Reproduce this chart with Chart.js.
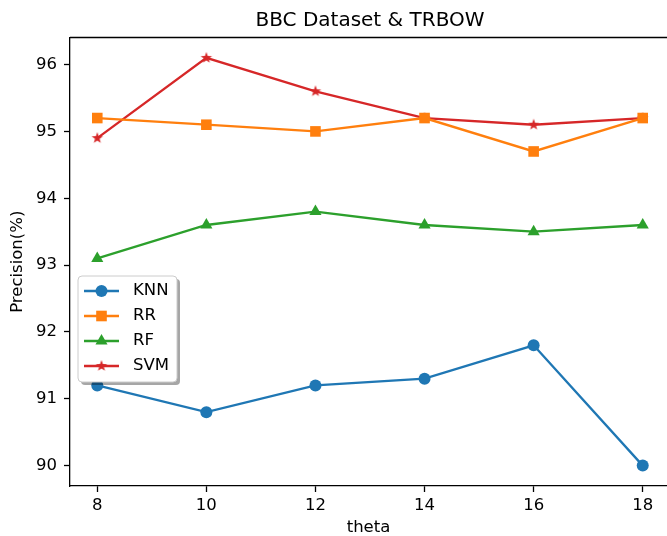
<!DOCTYPE html>
<html>
<head>
<meta charset="utf-8">
<script src="https://cdn.jsdelivr.net/npm/chart.js@4/dist/chart.umd.min.js"></script>
<style>
  html, body { margin: 0; padding: 0; background: #fff; overflow: hidden; }
  canvas { display: block; }
</style>
</head>
<body>
<canvas id="chart" width="667" height="536"></canvas>
<script>
const thetas = [8, 10, 12, 14, 16, 18];
const knn = [91.2, 90.8, 91.2, 91.3, 91.8, 90.0];
const rr = [95.2, 95.1, 95.0, 95.2, 94.7, 95.2];
const rf = [93.1, 93.6, 93.8, 93.6, 93.5, 93.6];
const svm = [94.9, 96.1, 95.6, 95.2, 95.1, 95.2];
const xTicks = [8, 10, 12, 14, 16, 18];
const yTicks = [90, 91, 92, 93, 94, 95, 96];
const titleText = "BBC Dataset & TRBOW";

// filled star like matplotlib's "*"
function makeStar(color) {
  const c = document.createElement("canvas");
  c.width = 14;
  c.height = 14;
  const g = c.getContext("2d");
  g.beginPath();
  for (let i = 0; i < 10; i++) {
    const r = i % 2 === 0 ? 6 : 2.4;
    const a = -Math.PI / 2 + (i * Math.PI) / 5;
    g.lineTo(7 + r * Math.cos(a), 7 + r * Math.sin(a));
  }
  g.closePath();
  g.fillStyle = color;
  g.fill();
  return c;
}

const series = [
  { label: "KNN", data: knn, color: "#1f77b4", style: "circle", radius: 6 },
  { label: "RR", data: rr, color: "#ff7f0e", style: "rect", radius: 7.5 },
  { label: "RF", data: rf, color: "#2ca02c", style: "triangle", radius: 7 },
  { label: "SVM", data: svm, color: "#d62728", style: makeStar("#d62728"), radius: 6 },
];

function drawMarker(ctx, s, x, y) {
  ctx.save();
  ctx.fillStyle = s.color;
  if (s.style === "circle") {
    ctx.beginPath();
    ctx.arc(x, y, s.radius, 0, Math.PI * 2);
    ctx.fill();
  } else if (s.style === "rect") {
    const h = s.radius * Math.SQRT1_2;
    ctx.fillRect(x - h, y - h, 2 * h, 2 * h);
  } else if (s.style === "triangle") {
    const r = s.radius;
    ctx.beginPath();
    ctx.moveTo(x, y - r);
    ctx.lineTo(x + r * 0.866, y + r / 2);
    ctx.lineTo(x - r * 0.866, y + r / 2);
    ctx.closePath();
    ctx.fill();
  } else {
    ctx.drawImage(s.style, x - 7, y - 7);
  }
  ctx.restore();
}

function roundRect(ctx, x, y, w, h, r) {
  ctx.beginPath();
  ctx.moveTo(x + r, y);
  ctx.arcTo(x + w, y, x + w, y + h, r);
  ctx.arcTo(x + w, y + h, x, y + h, r);
  ctx.arcTo(x, y + h, x, y, r);
  ctx.arcTo(x, y, x + w, y, r);
  ctx.closePath();
}

// title over the axes, legend box with shadow, top spine
const decor = {
  id: "decor",
  afterDatasetsDraw(chart) {
    const ctx = chart.ctx;
    const a = chart.chartArea;
    const x = a.left + 8, y = 276, w = 99, h = 106;
    ctx.save();
    ctx.fillStyle = "rgba(0,0,0,0.35)";
    roundRect(ctx, x + 3, y + 3, w, h, 4);
    ctx.fill();
    ctx.fillStyle = "#fff";
    ctx.strokeStyle = "#cccccc";
    ctx.lineWidth = 1;
    roundRect(ctx, x, y, w, h, 4);
    ctx.fill();
    ctx.stroke();
    series.forEach((s, i) => {
      const cy = y + 15 + i * 25;
      ctx.strokeStyle = s.color;
      ctx.lineWidth = 2.3;
      ctx.beginPath();
      ctx.moveTo(x + 6, cy);
      ctx.lineTo(x + 41, cy);
      ctx.stroke();
      drawMarker(ctx, s, x + 23.5, cy);
      ctx.fillStyle = "#000";
      ctx.font = "16.5px 'DejaVu Sans'";
      ctx.textBaseline = "middle";
      ctx.textAlign = "left";
      ctx.fillText(s.label, x + 55, cy);
    });
    ctx.restore();
  },
  afterDraw(chart) {
    const ctx = chart.ctx;
    const a = chart.chartArea;
    ctx.save();
    ctx.strokeStyle = "#000";
    ctx.lineWidth = 1.3;
    ctx.beginPath();
    ctx.moveTo(a.left, a.top);
    ctx.lineTo(a.right, a.top);
    ctx.stroke();
    // title centred on the full axes box (which runs a little past the canvas)
    const xs = chart.scales.x;
    const cx = (xs.getPixelForValue(7.5) + xs.getPixelForValue(18.5)) / 2;
    ctx.fillStyle = "#000";
    ctx.font = "20px 'DejaVu Sans'";
    ctx.textAlign = "center";
    ctx.textBaseline = "alphabetic";
    ctx.fillText(titleText, cx, 26);
    ctx.restore();
  },
};

Chart.defaults.font.family = "'DejaVu Sans'";
Chart.defaults.color = "#000";

new Chart(document.getElementById("chart"), {
  type: "line",
  data: {
    datasets: series.map((s) => ({
      label: s.label,
      data: s.data.map((v, i) => ({ x: thetas[i], y: v })),
      borderColor: s.color,
      backgroundColor: s.color,
      borderWidth: 2.3,
      pointStyle: s.style,
      pointRadius: s.radius,
      pointHoverRadius: s.radius,
      pointBackgroundColor: s.color,
      pointBorderColor: s.color,
      pointBorderWidth: 0,
      tension: 0,
      fill: false,
      clip: false,
    })),
  },
  options: {
    responsive: false,
    animation: false,
    layout: { autoPadding: false, padding: { left: 0, right: 0, top: 37.5, bottom: 0 } },
    plugins: {
      legend: { display: false },
      tooltip: { enabled: false },
      title: { display: false },
    },
    scales: {
      x: {
        type: "linear",
        min: 7.5,
        max: 18.445,
        afterBuildTicks: (s) => { s.ticks = xTicks.map((v) => ({ value: v })); },
        afterFit: (s) => { s.height = 50; s.paddingLeft = 0; s.paddingRight = 0; },
        grid: { drawOnChartArea: false, tickLength: 6, tickWidth: 1.3, tickColor: "#000" },
        border: { color: "#000", width: 1.3 },
        ticks: { font: { size: 16.5 }, padding: 4, color: "#000" },
        title: { display: true, text: "theta", font: { size: 16.5, lineHeight: 1.05 }, padding: { top: 0, bottom: 0 }, color: "#000" },
      },
      y: {
        type: "linear",
        min: 89.695,
        max: 96.405,
        afterBuildTicks: (s) => { s.ticks = yTicks.map((v) => ({ value: v })); },
        afterFit: (s) => { s.width = 70; s.paddingTop = 0; s.paddingBottom = 0; },
        grid: { drawOnChartArea: false, tickLength: 6, tickWidth: 1.3, tickColor: "#000" },
        border: { color: "#000", width: 1.3 },
        ticks: { font: { size: 16.5 }, padding: 7, color: "#000" },
        title: { display: true, text: "Precision(%)", font: { size: 16.5 }, padding: { top: 7.5, bottom: 0 }, color: "#000" },
      },
    },
  },
  plugins: [decor],
});
</script>
</body>
</html>
